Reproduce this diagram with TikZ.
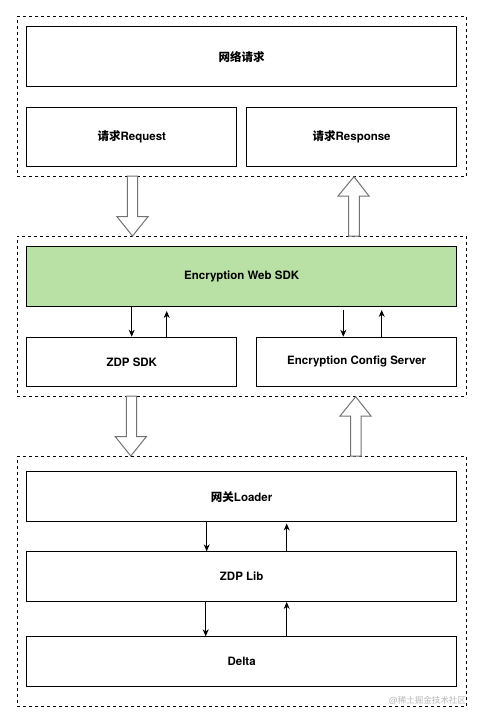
\documentclass[tikz,border=0pt]{standalone}
\usepackage{fontspec}
\setmainfont{TeX Gyre Heros}
\newfontfamily\cjk{Noto Sans CJK SC}
\usetikzlibrary{arrows.meta}

\tikzset{
  grp/.style={draw, dash pattern={on 3pt off 3pt}, line width=0.8pt, anchor=north west, inner sep=0pt},
  blk/.style={draw, line width=1pt, anchor=north west, inner sep=0pt, font=\fontsize{11.5}{13}\selectfont\bfseries},
  lnk/.style={line width=0.8pt, -{Stealth[length=7pt,width=6pt]}},
  fat/.style={draw=black!55, line width=1pt, fill=white},
}

\begin{document}
\begin{tikzpicture}[x=1pt,y=1pt,yscale=-1,xscale=1]
        \useasboundingbox (0,0) rectangle (483,723);

        %Group: top
        \node [grp, minimum width=449.3pt, minimum height=160pt] (top) at (16.7,16) {};
        \node [blk, minimum width=429.7pt, minimum height=60pt] (net) at (26.3,26.3) {{\cjk\bfseries 网络请求}};
        \node [blk, minimum width=210pt, minimum height=59.3pt] (req) at (26.3,106.7) {{\cjk\bfseries 请求}Request};
        \node [blk, minimum width=209.7pt, minimum height=59.3pt] (resp) at (246.3,106.7) {{\cjk\bfseries 请求}Response};

        %Group: middle
        \node [grp, minimum width=449.3pt, minimum height=159.7pt] (mid) at (16.7,236) {};
        \node [blk, fill={rgb,255:red,185;green,224;blue,165}, minimum width=429.7pt, minimum height=59.7pt] (web) at (26.3,246.3) {Encryption Web SDK};
        \node [blk, minimum width=210pt, minimum height=49.3pt] (zdp) at (26.3,336.7) {ZDP SDK};
        \node [blk, minimum width=199.7pt, minimum height=49.3pt] (cfg) at (256.3,336.7) {Encryption Config Server};

        %Group: bottom
        \node [grp, minimum width=449.3pt, minimum height=250pt] (bot) at (16.7,456) {};
        \node [blk, minimum width=429.7pt, minimum height=49.7pt] (loader) at (26.3,471.3) {{\cjk\bfseries 网关}Loader};
        \node [blk, minimum width=429.7pt, minimum height=49.7pt] (lib) at (26.3,551.3) {ZDP Lib};
        \node [blk, minimum width=429.7pt, minimum height=49.7pt] (delta) at (26.3,636.3) {Delta};

        %Shape: Down Arrow
        \draw [fat] (127.3,176) -- (137.7,176) -- (137.7,216.7) -- (148,216.7) -- (132.5,236) -- (117,216.7) -- (127.3,216.7) -- cycle ;
        %Shape: Up Arrow
        \draw [fat] (348.7,236) -- (359.3,236) -- (359.3,196) -- (369,196) -- (354,176.7) -- (338,196) -- (348.7,196) -- cycle ;
        %Shape: Down Arrow
        \draw [fat] (126.3,396) -- (136.7,396) -- (136.7,436.7) -- (146.3,436.7) -- (130.8,456) -- (115.3,436.7) -- (126.3,436.7) -- cycle ;
        %Shape: Up Arrow
        \draw [fat] (350.5,456) -- (361,456) -- (361,416) -- (371,416) -- (355.7,396.7) -- (340,416) -- (350.5,416) -- cycle ;

        %Straight Lines
        \draw [lnk] (web.south -| 131.7,0) -- (zdp.north -| 131.7,0) ;
        \draw [lnk, shorten >=4pt] (zdp.north -| 166.7,0) -- (web.south -| 166.7,0) ;
        \draw [lnk, shorten <=2.5pt] (web.south -| 343.3,0) -- (cfg.north -| 343.3,0) ;
        \draw [lnk, shorten >=3pt] (cfg.north -| 381.7,0) -- (web.south -| 381.7,0) ;
        \draw [lnk] (loader.south -| 206.7,0) -- (lib.north -| 206.7,0) ;
        \draw [lnk, shorten >=1.5pt] (lib.north -| 286.7,0) -- (loader.south -| 286.7,0) ;
        \draw [lnk] (lib.south -| 205.7,0) -- (delta.north -| 205.7,0) ;
        \draw [lnk] (delta.north -| 286.7,0) -- (lib.south -| 286.7,0) ;

        % Text Node
        \node [anchor=east, inner sep=0pt, text=black!28, font=\fontsize{8.5}{10}\selectfont] (mark) at (466,700) {@{\cjk 稀土掘金技术社区}};

        \end{tikzpicture}
\end{document}
